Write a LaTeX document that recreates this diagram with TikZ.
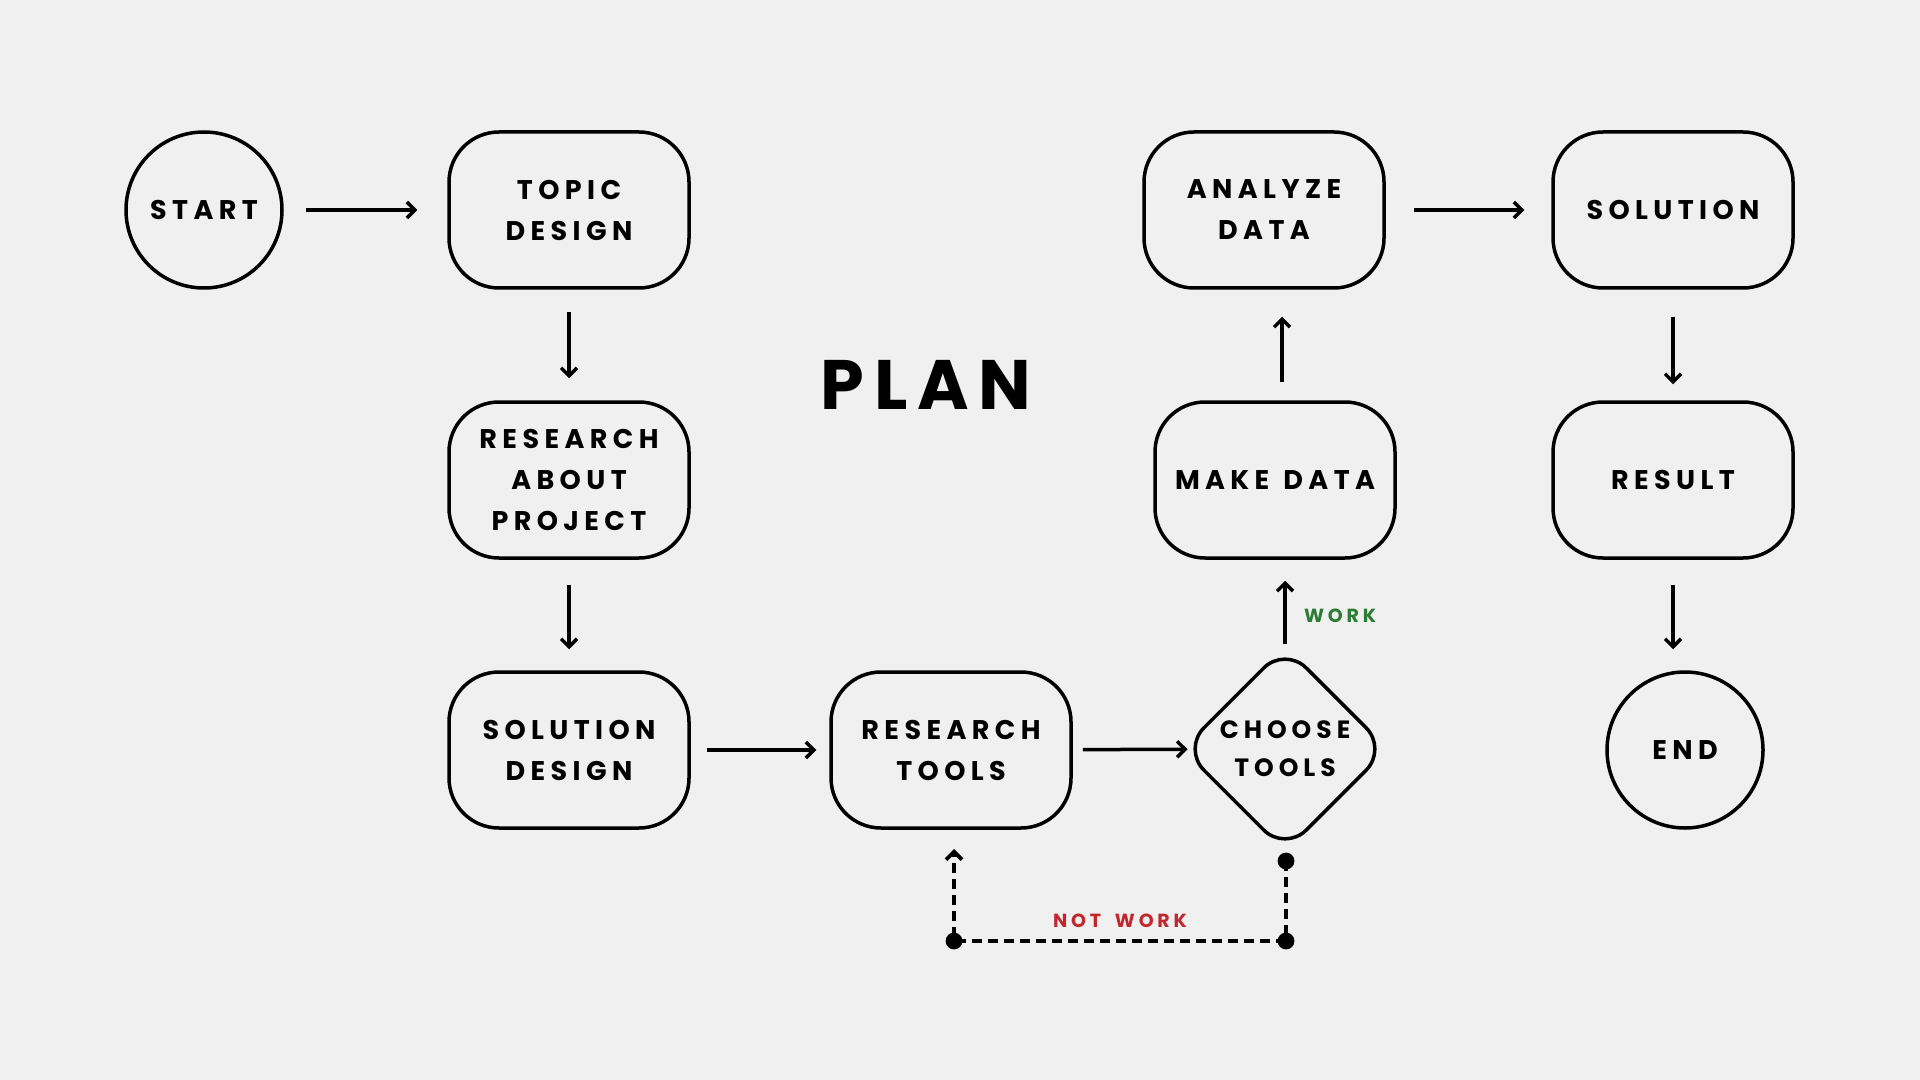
\documentclass[tikz,border=0pt]{standalone}
\usepackage{fontspec}
\setmainfont{Poppins}[LetterSpace=20]
\usepackage{tikz}
\usetikzlibrary{arrows.meta}
\usetikzlibrary{shapes.geometric}
\definecolor{bggray}{HTML}{F0F0F0}
\definecolor{workgreen}{HTML}{2B7D33}
\definecolor{notred}{HTML}{C1272D}

\begin{document}
\begin{tikzpicture}[x=0.5pt, y=-0.5pt,
        boxtext/.style={font=\fontsize{13.5}{20.5}\selectfont\bfseries, align=center},
        roundbox/.style={boxtext, draw, line width=1.75pt, rounded corners=25pt, minimum width=120pt, minimum height=78pt},
        roundnode/.style={boxtext, draw, circle, line width=1.75pt, minimum size=78pt, inner sep=0pt},
        choicebox/.style={draw, diamond, aspect=1, line width=1.75pt, rounded corners=15pt, minimum width=103pt, minimum height=103pt, inner sep=0pt, align=center, font=\fontsize{12.5}{19}\selectfont\bfseries},
        flow/.style={line width=1.75pt, -{Straight Barb[length=4pt, width=8pt]}},
        loopline/.style={line width=1.9pt, dash pattern=on 5pt off 3pt},
        tag/.style={font=\fontsize{9.5}{11}\selectfont\bfseries}]
        % Background
        \fill[bggray] (0,0) rectangle (1920,1080);
        \useasboundingbox (0,0) rectangle (1920,1080);

        % Nodes
        \node[roundnode] (start) at (204, 210) {START};
        \node[roundbox] (topic) at (569, 210) {TOPIC\\DESIGN};
        \node[roundbox] (about) at (569, 480) {RESEARCH\\ABOUT\\PROJECT};
        \node[roundbox] (soldes) at (569, 750) {SOLUTION\\DESIGN};
        \node[roundbox] (rtools) at (951, 750) {RESEARCH\\TOOLS};
        \node[choicebox] (choose) at (1285, 749) {CHOOSE\\TOOLS};
        \node[roundbox] (make) at (1275, 480) {MAKE\ \hspace{1.5pt}DATA};
        \node[roundbox] (analyze) at (1264, 210) {ANALYZE\\DATA};
        \node[roundbox] (solution) at (1673, 210) {SOLUTION};
        \node[roundbox] (result) at (1673, 480) {RESULT};
        \node[roundnode] (finish) at (1685, 750) {END};
        \node[font=\fontsize{35}{38}\selectfont\bfseries\addfontfeature{LetterSpace=14}] (plan) at (926, 385) {PLAN};
        \node[tag, text=workgreen] (work) at (1340, 616) {WORK};
        \node[tag, text=notred] (notwork) at (1120, 921) {NOT\ \hspace{3pt}WORK};

        % Loop points
        \coordinate (p0) at (1286, 861);
        \coordinate (p1) at (1286, 941);
        \coordinate (p2) at (954, 941);
        \coordinate (p3) at (954, 849);

        % Lines
        \draw[flow, shorten <=11pt, shorten >=15pt] (start) -- (topic);
        \draw[flow, shorten <=11pt, shorten >=11pt] (topic) -- (about);
        \draw[flow, shorten <=12.5pt, shorten >=10.5pt] (about) -- (soldes);
        \draw[flow, shorten <=8pt, shorten >=6.5pt] (soldes) -- (rtools);
        \draw[flow, shorten <=5pt, shorten >=-3.5pt] (rtools) -- (choose);
        \draw[flow, shorten >=10.5pt] (choose.north) -- (choose.north |- make.south);
        \draw[flow, shorten <=9pt, shorten >=13.5pt] ([xshift=3.5pt]make.north) -- ([xshift=3.5pt]make.north |- analyze.south);
        \draw[flow, shorten <=14pt, shorten >=13.5pt] (analyze) -- (solution);
        \draw[flow, shorten <=13.5pt, shorten >=8pt] (solution) -- (result);
        \draw[flow, shorten <=12.5pt, shorten >=10.5pt] (result.south) -- (result.south |- finish.north);
        \draw[loopline, -{Straight Barb[length=4pt, width=8pt]}] (p0) -- (p1) -- (p2) -- (p3);
        \fill (p0) circle (4.2pt);
        \fill (p1) circle (4.2pt);
        \fill (p2) circle (4.2pt);
    \end{tikzpicture}
\end{document}
